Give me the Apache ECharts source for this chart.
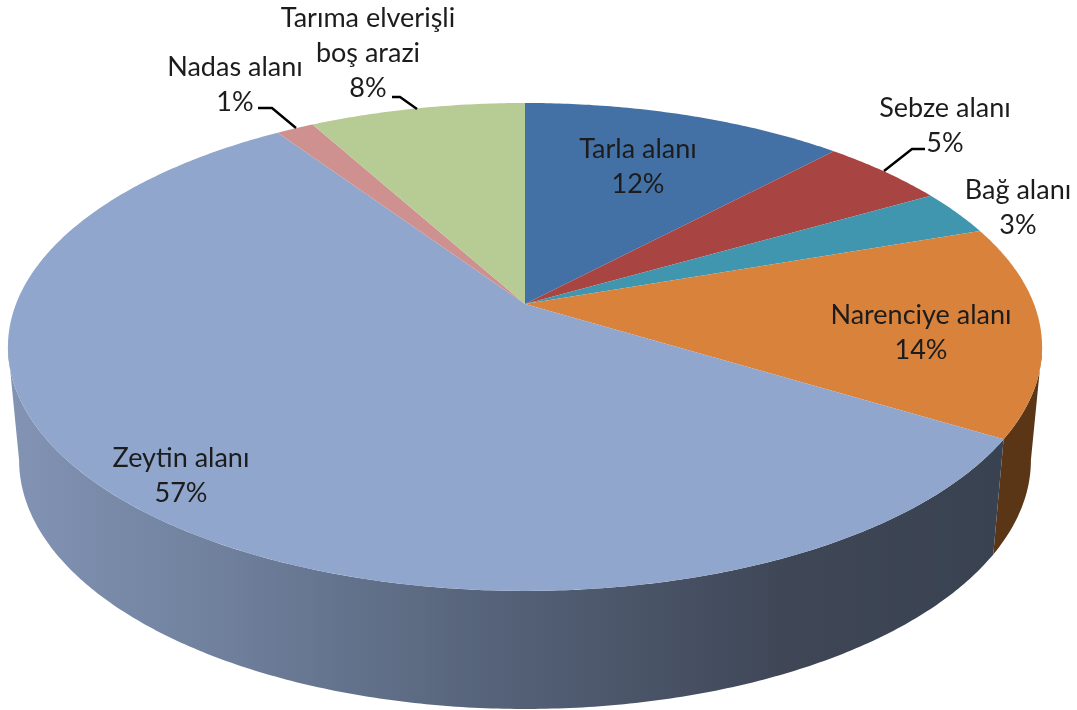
<!DOCTYPE html>
<html>
<head>
<meta charset="utf-8">
<style>
  html, body { margin: 0; padding: 0; background: #fff; overflow: hidden; }
  #chart { width: 1077px; height: 710px; }
</style>
<script src="https://cdn.jsdelivr.net/npm/echarts@6/dist/echarts.min.js"></script>
</head>
<body>
<div id="chart"></div>
<script>
// 3B pasta: dilim adlari ve degerleri
const categories = ['Tarla alanı', 'Sebze alanı', 'Bağ alanı', 'Narenciye alanı', 'Zeytin alanı', 'Nadas alanı', 'Tarıma elverişli\nboş arazi']
const seriesValues = [12, 4.7, 3, 14, 56.9, 1.4, 8]

const topColors = ['#4471A5', '#A84542', '#3F96AE', '#D9823C', '#90A6CD', '#CF9190', '#B7CC94']

// etiket merkezleri (piksel)
const labelAnchors = [
  [638, 167], [945, 126], [1018, 208], [921, 333], [181, 476], [235, 85], [368, 53]
]
// kilavuz cizgileri, dilim sirasina gore
const leaderLines = [
  null,
  [[925, 149], [912, 149], [884, 171]],
  null, null, null,
  [[258, 108], [272, 108], [296, 128]],
  [[392, 97], [400, 97], [417, 109]]
]

// perspektif izdusumu: ust ve alt yuzey
const K = 0.176
const topFace = { cx: 525, cy: 304, a: 509, b: 236.4 }
const bottomFace = { cx: 525, cy: 416.5, a: 498, b: 241 }
const project = (face, t) => {
  const d = 1 + K * Math.cos(t)
  return [face.cx + (face.a * Math.sin(t)) / d, face.cy - (face.b * Math.cos(t)) / d]
}

const total = seriesValues.reduce((s, v) => s + v, 0)
const toAngle = (v) => echarts.number.linearMap(v, [0, total], [0, Math.PI * 2])
const arcPoints = (face, from, to) => {
  const n = Math.max(2, Math.ceil((to - from) / 0.01))
  const pts = []
  for (let i = 0; i <= n; i++) pts.push(project(face, from + ((to - from) * i) / n))
  return pts
}
const startOf = (idx) => seriesValues.slice(0, idx).reduce((s, v) => s + v, 0)

// gorunen yan yuzeyin siniri (kenar teget acilari)
const sideFrom = Math.acos(-K)
const sideTo = Math.PI * 2 - sideFrom

const wallFill = (idx) => {
  if (idx === 3) return '#5A3516'
  return new echarts.graphic.LinearGradient(8, 0, 1002, 0, [
    { offset: 0, color: '#8293B4' },
    { offset: 0.2, color: '#71829F' },
    { offset: 0.5, color: '#546177' },
    { offset: 0.78, color: '#3F4757' },
    { offset: 1, color: '#394251' }
  ], true)
}

const renderWall = (params, api) => {
  const idx = params.dataIndex
  const from = Math.max(toAngle(startOf(idx)), sideFrom)
  const to = Math.min(toAngle(startOf(idx) + api.value(0)), sideTo)
  if (to <= from) return null
  return {
    type: 'polygon',
    silent: true,
    shape: { points: arcPoints(topFace, from, to).concat(arcPoints(bottomFace, from, to).reverse()) },
    style: { fill: wallFill(idx), stroke: null }
  }
}

const renderTop = (params, api) => {
  const idx = params.dataIndex
  const from = toAngle(startOf(idx))
  const to = toAngle(startOf(idx) + api.value(0))
  return {
    type: 'polygon',
    silent: true,
    shape: { points: [[topFace.cx, topFace.cy]].concat(arcPoints(topFace, from, to)) },
    style: { fill: topColors[idx], stroke: null }
  }
}

const renderLabel = (params, api) => {
  const idx = params.dataIndex
  const pct = Math.round((api.value(0) / total) * 100)
  const children = [{
    type: 'text',
    silent: true,
    x: labelAnchors[idx][0],
    y: labelAnchors[idx][1],
    style: {
      text: categories[idx] + '\n' + pct + '%',
      font: '27px Lato, "Open Sans", sans-serif',
      lineHeight: 35,
      fill: '#1c1c1c',
      align: 'center',
      verticalAlign: 'middle'
    }
  }]
  if (leaderLines[idx]) {
    children.push({
      type: 'polyline',
      silent: true,
      shape: { points: leaderLines[idx] },
      style: { stroke: '#000', lineWidth: 2.4, fill: null }
    })
  }
  return { type: 'group', children }
}

const chart = echarts.init(document.getElementById('chart'), null, { renderer: 'canvas' })
const values = seriesValues.map((v, i) => ({ name: categories[i], value: v }))
chart.setOption({
  animation: false,
  backgroundColor: '#fff',
  series: [
    { type: 'custom', coordinateSystem: 'none', renderItem: renderWall, data: values, z: 1 },
    { type: 'custom', coordinateSystem: 'none', renderItem: renderTop, data: values, z: 2 },
    { type: 'custom', coordinateSystem: 'none', renderItem: renderLabel, data: values, z: 3 }
  ]
})
</script>
</body>
</html>
